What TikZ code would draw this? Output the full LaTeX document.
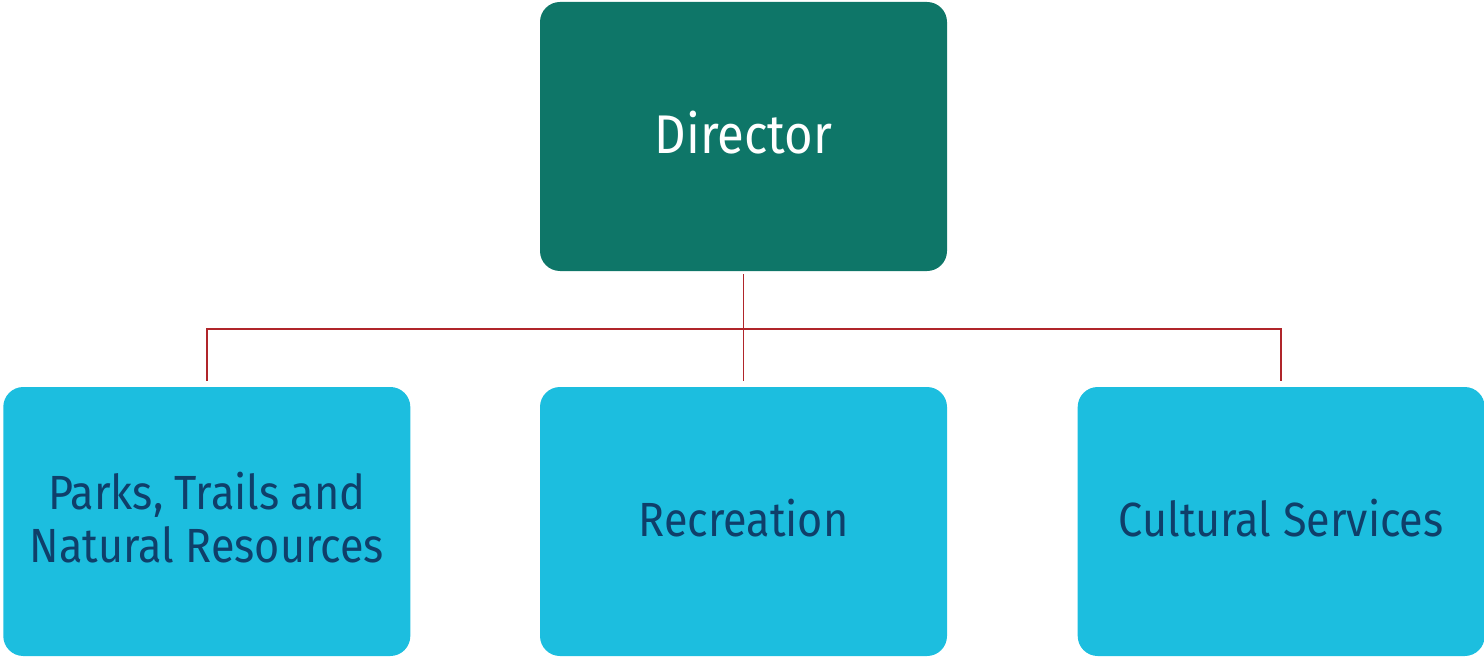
\documentclass[tikz,border=0pt]{standalone}
\usepackage{fontspec}
\setmainfont{Fira Sans}[FakeStretch=0.9]
\usetikzlibrary{positioning}
\definecolor{dirteal}{HTML}{0E7668}
\definecolor{unitcyan}{HTML}{1CBEDF}
\definecolor{unittext}{HTML}{0F3F6A}
\definecolor{linkred}{HTML}{B0252A}
\tikzset{
  orgbox/.style={rounded corners=0.4cm, minimum width=8.14cm, minimum height=5.38cm,
    inner sep=0pt, align=center, text depth=0.16cm},
  headbox/.style={orgbox, fill=dirteal, text=white, font=\fontsize{31}{35}\selectfont},
  unitbox/.style={orgbox, fill=unitcyan, text=unittext, font=\fontsize{27.3}{30.2}\selectfont},
  link/.style={draw=linkred, line width=1.1pt, shorten <=0.06cm, shorten >=0.12cm}
}

\begin{document}
\begin{tikzpicture}
\useasboundingbox (0,0) rectangle (29.68,-13.14);
\node[headbox] (dir) at (14.87,-2.73) {Director};
\node[unitbox] (rec) at (14.87,-10.43) {Recreation};
\node[unitbox, left=2.58cm of rec] (parks) {Parks, Trails and\\Natural Resources};
\node[unitbox, right=2.6cm of rec] (cult) {Cultural Services};
\coordinate (bus) at (14.87,-6.58);
\draw[link] (dir) -- (rec);
\draw[link, shorten <=0.12cm] (parks.north) |- (bus) -| (cult.north);
\end{tikzpicture}
\end{document}
